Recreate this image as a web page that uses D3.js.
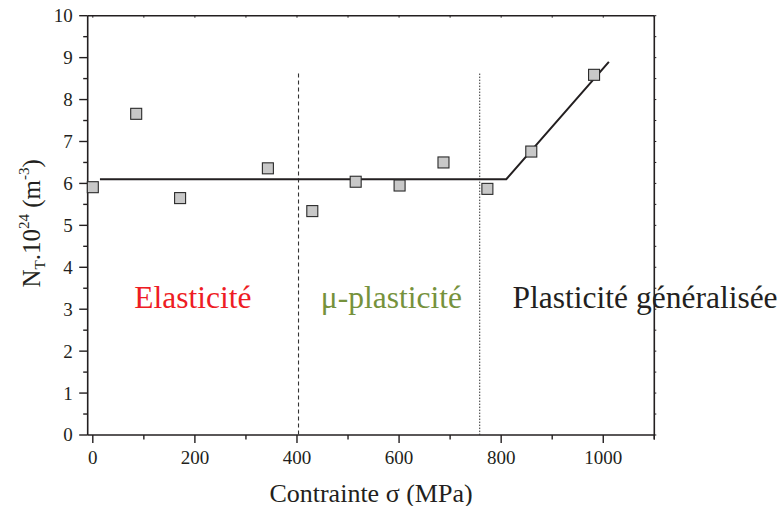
<!DOCTYPE html>
<html>
<head>
<meta charset="utf-8">
<script src="https://cdn.jsdelivr.net/npm/d3@7"></script>
<style>
  html, body { margin: 0; padding: 0; background: #fff; }
  text { font-family: 'Liberation Serif', 'DejaVu Serif', serif; }
</style>
</head>
<body>
<svg id="chart" width="783" height="506"></svg>
<script>
// ---- data ----
const stress = [0, 85, 171, 343, 430, 515, 601, 687, 773, 859, 982];
const density = [5.91, 7.66, 5.65, 6.36, 5.34, 6.04, 5.95, 6.50, 5.87, 6.76, 8.59];
const fitStress = [14, 810, 1011];
const fitDensity = [6.1, 6.1, 8.9];
const boundaryStress = [403, 758];
const boundaryTop = 8.62;
const xTicks = [0, 200, 400, 600, 800, 1000];
const yTicks = [0, 1, 2, 3, 4, 5, 6, 7, 8, 9, 10];
const regimeLabels = ["Elasticité", "μ-plasticité", "Plasticité généralisée"];
const regimeStress = [196, 585, 1082];
const regimeLevel = 3.03;

// ---- layout ----
const W = 783, H = 506;
const FONT = "Liberation Serif, DejaVu Serif, serif";
const m = {left: 87.7, top: 15.7, right: 128.7, bottom: 71};
const svg = d3.select("#chart").attr("font-family", FONT);
const x = d3.scaleLinear().domain([-10, 1100]).range([m.left, W - m.right]);
const y = d3.scaleLinear().domain([0, 10]).range([H - m.bottom, m.top]);
const ink = "#231f20";

// minor ticks
const xMinor = d3.range(100, 1101, 200);
const yMinor = d3.range(0.5, 10, 1);

// bottom axis
const gx = svg.append("g").attr("transform", `translate(0,${y(0)})`);
gx.append("line").attr("x1", x.range()[0]).attr("x2", x.range()[1]).attr("stroke", ink).attr("stroke-width", 1.6);
gx.selectAll(".maj").data(xTicks).join("line").attr("class", "maj")
  .attr("x1", d => x(d)).attr("x2", d => x(d)).attr("y1", 0).attr("y2", 8)
  .attr("stroke", ink).attr("stroke-width", 1.4);
gx.selectAll(".min").data(xMinor).join("line").attr("class", "min")
  .attr("x1", d => x(d)).attr("x2", d => x(d)).attr("y1", 0).attr("y2", 4.5)
  .attr("stroke", ink).attr("stroke-width", 1.4);
gx.selectAll("text").data(xTicks).join("text")
  .attr("x", d => x(d)).attr("y", 28.5).attr("text-anchor", "middle")
  .attr("font-family", FONT).attr("font-size", 19).attr("fill", ink).text(d => d);

// left axis
const gy = svg.append("g").attr("transform", `translate(${x.range()[0]},0)`);
gy.append("line").attr("y1", y.range()[0]).attr("y2", y.range()[1]).attr("stroke", ink).attr("stroke-width", 1.6);
gy.selectAll(".maj").data(yTicks).join("line").attr("class", "maj")
  .attr("y1", d => y(d)).attr("y2", d => y(d)).attr("x1", 0).attr("x2", -8.5)
  .attr("stroke", ink).attr("stroke-width", 1.4);
gy.selectAll(".min").data(yMinor).join("line").attr("class", "min")
  .attr("y1", d => y(d)).attr("y2", d => y(d)).attr("x1", 0).attr("x2", -4.5)
  .attr("stroke", ink).attr("stroke-width", 1.4);
gy.selectAll("text").data(yTicks).join("text")
  .attr("x", -15).attr("y", d => y(d)).attr("dy", "0.34em").attr("text-anchor", "end")
  .attr("font-family", FONT).attr("font-size", 19).attr("fill", ink).text(d => d);

// top axis (mirror)
const gt = svg.append("g").attr("transform", `translate(0,${y(10)})`);
gt.append("line").attr("x1", x.range()[0]).attr("x2", x.range()[1]).attr("stroke", ink).attr("stroke-width", 1.6);
gt.selectAll(".maj").data(xTicks.concat(xMinor)).join("line").attr("class", "maj")
  .attr("x1", d => x(d)).attr("x2", d => x(d)).attr("y1", 0).attr("y2", 2)
  .attr("stroke", ink).attr("stroke-width", 1);

// right axis (mirror)
const gr = svg.append("g").attr("transform", `translate(${x.range()[1]},0)`);
gr.append("line").attr("y1", y.range()[0]).attr("y2", y.range()[1]).attr("stroke", ink).attr("stroke-width", 1.6);
gr.selectAll(".maj").data(yTicks.concat(yMinor)).join("line").attr("class", "maj")
  .attr("y1", d => y(d)).attr("y2", d => y(d)).attr("x1", 0).attr("x2", 2)
  .attr("stroke", ink).attr("stroke-width", 1);
gx.append("line").attr("x1", x(1100)).attr("x2", x(1100)).attr("y1", 0).attr("y2", 4.5)
  .attr("stroke", ink).attr("stroke-width", 1.4);

// regime boundaries
svg.append("line")
  .attr("x1", x(boundaryStress[0])).attr("x2", x(boundaryStress[0]))
  .attr("y1", y(boundaryTop)).attr("y2", y(0))
  .attr("stroke", "#333").attr("stroke-width", 1.1).attr("stroke-dasharray", "4,3");
svg.append("line")
  .attr("x1", x(boundaryStress[1])).attr("x2", x(boundaryStress[1]))
  .attr("y1", y(boundaryTop)).attr("y2", y(0))
  .attr("stroke", "#333").attr("stroke-width", 1).attr("stroke-dasharray", "1.5,1.5");

// fitted line
svg.append("path")
  .datum(fitStress.map((s, i) => [s, fitDensity[i]]))
  .attr("d", d3.line().x(d => x(d[0])).y(d => y(d[1])))
  .attr("fill", "none").attr("stroke", ink).attr("stroke-width", 2);

// data squares
const sz = 11;
svg.selectAll(".pt").data(stress.map((s, i) => [s, density[i]])).join("rect")
  .attr("class", "pt")
  .attr("x", d => x(d[0]) - sz / 2).attr("y", d => y(d[1]) - sz / 2)
  .attr("width", sz).attr("height", sz)
  .attr("fill", "#c8c8c8").attr("stroke", "#2a2a2a").attr("stroke-width", 1.1);

// regime labels
const regimeColors = ["#ee1c24", "#76923c", ink];
svg.selectAll(".reg").data(regimeLabels).join("text").attr("class", "reg")
  .attr("x", (d, i) => x(regimeStress[i])).attr("y", y(regimeLevel))
  .attr("text-anchor", "middle").attr("font-family", FONT).attr("font-size", 31.5)
  .attr("fill", (d, i) => regimeColors[i]).text(d => d);

// x title
svg.append("text")
  .attr("x", (x.range()[0] + x.range()[1]) / 2).attr("y", 501.5)
  .attr("text-anchor", "middle").attr("font-family", FONT).attr("font-size", 26).attr("fill", ink)
  .text("Contrainte σ (MPa)");

// y title
const yt = svg.append("text")
  .attr("transform", `translate(40,${(y.range()[0] + y.range()[1]) / 2 - 2}) rotate(-90)`)
  .attr("text-anchor", "middle").attr("font-family", FONT).attr("font-size", 25).attr("fill", ink);
yt.append("tspan").text("N");
yt.append("tspan").attr("font-size", 15).attr("dy", 5).text("T");
yt.append("tspan").attr("dy", -5).text(".10");
yt.append("tspan").attr("font-size", 15).attr("dy", -11).text("24");
yt.append("tspan").attr("dy", 11).text(" (m");
yt.append("tspan").attr("font-size", 15).attr("dy", -11).text("-3");
yt.append("tspan").attr("dy", 11).text(")");
</script>
</body>
</html>
